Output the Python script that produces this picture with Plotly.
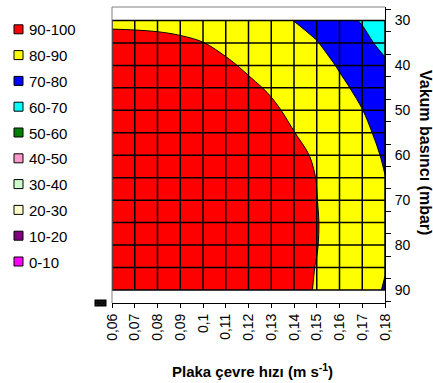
import plotly.graph_objects as go

# Plate peripheral speed (m/s) and vacuum pressure (mbar) grid
speed = [0.06, 0.07, 0.08, 0.09, 0.10, 0.11, 0.12, 0.13, 0.14, 0.15, 0.16, 0.17, 0.18]
speed_labels = ["0,06", "0,07", "0,08", "0,09", "0,1", "0,11", "0,12",
                "0,13", "0,14", "0,15", "0,16", "0,17", "0,18"]
vacuum = [30, 35, 40, 45, 50, 55, 60, 65, 70, 75, 80, 85, 90]
vacuum_labels = ["30", "40", "50", "60", "70", "80", "90"]

# Efficiency (%) — one row per vacuum level, one column per speed
eff_30 = [89.0, 88.9, 88.7, 88.2, 87.4, 86.0, 84.2, 82.4, 79.9, 77.7, 74.5, 68.9, 64.0]
eff_35 = [91.6, 91.5, 91.3, 90.9, 90.1, 88.6, 86.8, 85.0, 82.6, 80.3, 77.1, 74.0, 66.0]
eff_40 = [93.9, 93.8, 93.6, 93.2, 92.3, 90.9, 89.1, 87.3, 84.9, 82.6, 79.4, 76.3, 72.4]
eff_45 = [95.9, 95.9, 95.7, 95.2, 94.3, 92.9, 91.1, 89.3, 87.0, 84.7, 81.4, 78.3, 75.1]
eff_50 = [97.6, 97.6, 97.4, 96.9, 96.0, 94.6, 92.8, 91.0, 88.7, 86.4, 83.1, 80.1, 76.8]
eff_55 = [99.0, 99.0, 98.8, 98.3, 97.4, 96.0, 94.2, 92.4, 90.1, 87.8, 84.5, 81.4, 78.2]
eff_60 = [100.0, 100.0, 99.9, 99.4, 98.5, 97.1, 95.3, 93.5, 91.2, 89.4, 85.6, 82.5, 79.3]
eff_65 = [100.0, 100.0, 100.0, 100.0, 99.3, 97.9, 96.1, 94.3, 91.9, 89.9, 86.4, 83.3, 80.1]
eff_70 = [100.0, 100.0, 100.0, 100.0, 99.8, 98.4, 96.6, 94.8, 92.4, 90.1, 86.9, 83.8, 80.6]
eff_75 = [100.0, 100.0, 100.0, 100.0, 100.0, 98.6, 96.8, 95.0, 92.6, 90.3, 87.1, 84.0, 80.8]
eff_80 = [100.0, 100.0, 100.0, 100.0, 99.9, 98.4, 96.7, 94.9, 92.5, 90.2, 87.0, 83.9, 80.7]
eff_85 = [100.0, 100.0, 100.0, 100.0, 99.4, 98.0, 96.2, 94.4, 92.1, 89.8, 86.5, 83.4, 80.3]
eff_90 = [100.0, 100.0, 100.0, 99.6, 98.7, 97.3, 95.5, 93.7, 91.3, 89.7, 85.8, 82.7, 79.5]
efficiency = [eff_30, eff_35, eff_40, eff_45, eff_50, eff_55, eff_60,
              eff_65, eff_70, eff_75, eff_80, eff_85, eff_90]

# Band labels and colours, lowest band first
band_labels = ["0-10", "10-20", "20-30", "30-40", "40-50",
               "50-60", "60-70", "70-80", "80-90", "90-100"]
band_colors = ["#FF00FF", "#800080", "#FFFFCC", "#CCFFCC", "#FF99CC",
               "#008000", "#00FFFF", "#0000FF", "#FFFF00", "#FF0000"]

FONT = "Liberation Sans, Arial, sans-serif"
W, H = 433, 383
ML, MR, MT, MB = 112, 48, 7, 80
PW, PH = W - ML - MR, H - MT - MB
Y_RANGE = [92.9, 27.0]


def px_x(p):
    return (p - ML) / PW


def px_y(p):
    return (H - MB - p) / PH


n = len(band_colors)
colorscale = [[k / (n - 1), c] for k, c in enumerate(band_colors)]

fig = go.Figure()
fig.add_trace(go.Contour(
    x=speed, y=vacuum, z=efficiency,
    colorscale=colorscale, showscale=False,
    contours=dict(start=10, end=90, size=10, coloring="fill", showlines=True),
    line=dict(color="black", width=1, smoothing=1),
    hoverinfo="skip",
))

shapes = []
# cell grid drawn over the filled bands
for xv in speed:
    shapes.append(dict(type="line", xref="x", yref="y", x0=xv, x1=xv,
                       y0=vacuum[0], y1=vacuum[-1],
                       line=dict(color="black", width=1.5), layer="above"))
for yv in vacuum:
    shapes.append(dict(type="line", xref="x", yref="y", x0=speed[0], x1=speed[-1],
                       y0=yv, y1=yv,
                       line=dict(color="black", width=1.5), layer="above"))
# grey frame on the top and left of the plot box
shapes.append(dict(type="line", xref="paper", yref="paper", x0=0, x1=1, y0=1, y1=1,
                   line=dict(color="#808080", width=1)))
shapes.append(dict(type="line", xref="paper", yref="paper", x0=0, x1=0, y0=0, y1=1,
                   line=dict(color="#808080", width=1)))

annotations = []
# legend: highest band at the top
for k, (lab, col) in enumerate(zip(band_labels[::-1], band_colors[::-1])):
    cy = 29.3 + 25.8 * k
    shapes.append(dict(type="rect", xref="paper", yref="paper",
                       x0=px_x(14), x1=px_x(23), y0=px_y(cy + 4.5), y1=px_y(cy - 4.5),
                       fillcolor=col, line=dict(color="black", width=1)))
    annotations.append(dict(text=lab, xref="paper", yref="paper",
                            x=px_x(26.5), y=px_y(cy + 0.5), xanchor="left", yanchor="middle",
                            showarrow=False, font=dict(family=FONT, size=15, color="black")))

annotations.append(dict(text="<b>Plaka çevre hızı (m s<sup>-1</sup>)</b>",
                        xref="paper", yref="paper", x=px_x(252.5), y=px_y(370),
                        xanchor="center", yanchor="middle", showarrow=False,
                        font=dict(family=FONT, size=15, color="black")))
annotations.append(dict(text="<b>Vakum basıncı (mbar)</b>",
                        xref="paper", yref="paper", x=px_x(425.5), y=px_y(152.5),
                        xanchor="center", yanchor="middle", textangle=90, showarrow=False,
                        font=dict(family=FONT, size=16, color="black")))
annotations.append(dict(text="100", xref="paper", yref="paper", x=px_x(100.5), y=px_y(303),
                        xanchor="center", yanchor="middle", showarrow=False,
                        bgcolor="black", borderpad=0,
                        font=dict(family=FONT, size=6, color="#333333")))

fig.update_layout(
    width=W, height=H,
    margin=dict(l=ML, r=MR, t=MT, b=MB, pad=0),
    paper_bgcolor="white", plot_bgcolor="white",
    showlegend=False,
    shapes=shapes, annotations=annotations,
    xaxis=dict(range=[speed[0], speed[-1]], tickmode="array", tickvals=speed,
               ticktext=speed_labels, tickangle=-90, ticks="outside", ticklen=4,
               tickcolor="black", showline=True, linecolor="black", linewidth=1,
               showgrid=False, zeroline=False,
               tickfont=dict(family=FONT, size=14, color="black")),
    yaxis=dict(range=Y_RANGE, side="right", tickmode="array",
               tickvals=vacuum[::2], ticktext=vacuum_labels, ticks="",
               ticklabelstandoff=6,
               showline=True, linecolor="black", linewidth=1,
               showgrid=False, zeroline=False,
               tickfont=dict(family=FONT, size=14, color="black")),
    # tick marks sit half a step off the labelled values
    yaxis2=dict(range=Y_RANGE, overlaying="y", side="right", anchor="x",
                tickmode="array", tickvals=[v + 2.5 for v in [25] + vacuum],
                ticks="outside", ticklen=5, tickcolor="black",
                showticklabels=False, showline=False, showgrid=False, zeroline=False),
)
# an empty trace keeps the tick-mark axis drawn
fig.add_trace(go.Scatter(x=[], y=[], yaxis="y2", showlegend=False, hoverinfo="skip"))

fig.write_html("out.html")
